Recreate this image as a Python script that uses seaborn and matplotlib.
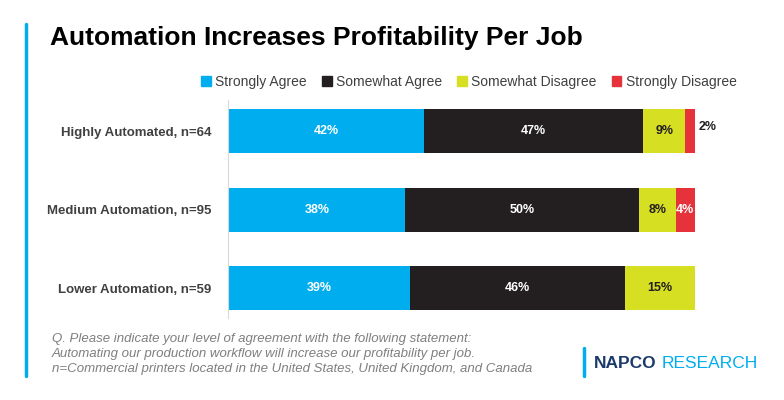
import matplotlib
matplotlib.use("Agg")
import matplotlib.pyplot as plt
import seaborn as sns
import numpy as np
import pandas as pd
from matplotlib.patches import Patch

groups = ["Highly Automated, n=64", "Medium Automation, n=95", "Lower Automation, n=59"]
series = ["Strongly Agree", "Somewhat Agree", "Somewhat Disagree", "Strongly Disagree"]
strongly_agree = [42, 38, 39]
somewhat_agree = [47, 50, 46]
somewhat_disagree = [9, 8, 15]
strongly_disagree = [2, 4, 0]
colors = ["#00AEEF", "#231F20", "#D7DF23", "#E5323B"]
text_colors = ["white", "white", "#231F20", "white"]

sns.set_style("white")
plt.rcParams["font.family"] = ["Liberation Sans", "DejaVu Sans"]

fig = plt.figure(figsize=(7.84, 4.0), dpi=100)
ax = fig.add_axes([0.291, 0.205, 0.886 - 0.291, 0.545])

vals = np.array([strongly_agree, somewhat_agree, somewhat_disagree, strongly_disagree])
cum = vals.cumsum(axis=0)
for i in range(len(series) - 1, -1, -1):
    df = pd.DataFrame({"group": groups, "value": cum[i]})
    sns.barplot(data=df, y="group", x="value", color=colors[i], orient="h",
                width=0.56, ax=ax, saturation=1, linewidth=0)

for j in range(len(groups)):
    left = 0
    for i in range(len(series)):
        v = vals[i, j]
        if v == 0:
            continue
        if v <= 2:
            ax.text(left + v + 0.8, j - 0.05, f"{v}%", ha="left", va="center",
                    fontsize=9, fontweight="bold", color="#231F20")
        else:
            ax.text(left + v / 2, j, f"{v}%", ha="center", va="center",
                    fontsize=9, fontweight="bold", color=text_colors[i])
        left += v

ax.set_xlim(0, 100)
ax.set_ylim(2.38, -0.395)
ax.set_xlabel("")
ax.set_ylabel("")
ax.set_xticks([])
ax.tick_params(axis="y", length=0, pad=12, labelsize=9.5)
for lbl in ax.get_yticklabels():
    lbl.set_fontweight("bold")
    lbl.set_color("#404040")
for s in ["top", "right", "bottom"]:
    ax.spines[s].set_visible(False)
ax.spines["left"].set_color("#D9D9D9")

handles = [Patch(color=c, label=s) for c, s in zip(colors, series)]
fig.legend(handles=handles, loc="center", bbox_to_anchor=(0.598, 0.795), ncol=4,
           frameon=False, fontsize=10, handlelength=0.7, handleheight=0.7,
           handletextpad=0.3, columnspacing=1.1, labelcolor="#404040")

fig.text(0.064, 0.905, "Automation Increases Profitability Per Job", fontsize=19,
         fontweight="bold", color="black", va="center")
fig.add_artist(plt.Line2D([0.033, 0.033], [0.06, 0.94], color="#00AEEF", lw=2.5))

foot = ("Q. Please indicate your level of agreement with the following statement:\n"
        "Automating our production workflow will increase our profitability per job.\n"
        "n=Commercial printers located in the United States, United Kingdom, and Canada")
fig.text(0.066, 0.115, foot, fontsize=9.5, style="italic", color="#7F7F7F",
         va="center", linespacing=1.3)

fig.add_artist(plt.Line2D([0.745, 0.745], [0.06, 0.13], color="#00AEEF", lw=2.5))
fig.text(0.758, 0.092, "NAPCO", fontsize=12.5, fontweight="bold", color="#1B3A6B", va="center")
fig.text(0.967, 0.092, "RESEARCH", fontsize=12.5, color="#00AEEF", va="center", ha="right")

fig.savefig("out.png", dpi=100)
